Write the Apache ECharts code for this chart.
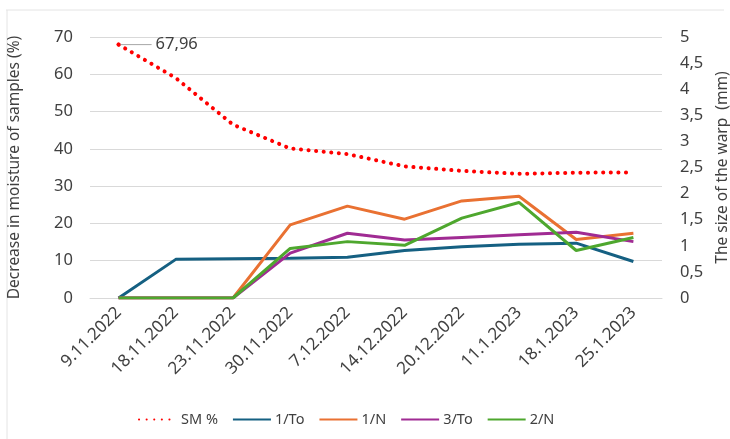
<!DOCTYPE html>
<html>
<head>
<meta charset="utf-8">
<script src="https://cdn.jsdelivr.net/npm/echarts@6/dist/echarts.min.js"></script>
<style>
  html, body { margin: 0; padding: 0; background: #fff; }
  #chart { width: 730px; height: 439px; }
</style>
</head>
<body>
<div id="chart"></div>
<script>
// Sampling dates
const dates = ['9.11.2022', '18.11.2022', '23.11.2022', '30.11.2022', '7.12.2022',
  '14.12.2022', '20.12.2022', '11.1.2023', '18.1.2023', '25.1.2023'];

// Moisture loss of the samples, % (left axis)
const smPercent = [67.96, 59.0, 46.5, 40.1, 38.6, 35.3, 34.1, 33.3, 33.6, 33.7];

// Warp of each sample, mm (right axis)
const warp1To = [0, 0.74, 0.75, 0.76, 0.78, 0.91, 0.98, 1.03, 1.05, 0.70];
const warp1N  = [0, 0, 0, 1.40, 1.76, 1.51, 1.86, 1.95, 1.12, 1.24];
const warp3To = [0, 0, 0, 0.86, 1.24, 1.11, 1.16, 1.21, 1.26, 1.08];
const warp2N  = [0, 0, 0, 0.95, 1.08, 1.01, 1.53, 1.83, 0.91, 1.16];

const leftTicks = { min: 0, max: 70, interval: 10 };
const rightTicks = { min: 0, max: 5, interval: 0.5 };

const FONT = '"Noto Sans", "Liberation Sans", sans-serif';
const TXT = '#404040';
const comma = v => String(v).replace('.', ',');

const chart = echarts.init(document.getElementById('chart'), null, { renderer: 'canvas' });

function warpSeries(name, data, color) {
  return {
    name, type: 'line', yAxisIndex: 1, data,
    symbol: 'none', smooth: false,
    lineStyle: { color, width: 3 },
    itemStyle: { color },
    z: 2
  };
}

// Only the first moisture reading carries a value label with a short leader
const smData = smPercent.map((v, i) => i === 0 ? {
  value: v,
  symbolSize: 4,
  label: {
    show: true, position: 'right', distance: 0,
    formatter: p => '{ln|}{t|' + comma(p.value) + '}',
    rich: {
      ln: { width: 31, height: 1, backgroundColor: '#a6a6a6' },
      t: { fontSize: 16.5, color: TXT, fontFamily: FONT, padding: [0, 0, 0, 4] }
    }
  }
} : v);

chart.setOption({
  backgroundColor: '#fff',
  animation: false,
  textStyle: { fontFamily: FONT },
  grid: { left: 90, right: 68, top: 37, bottom: 141, containLabel: false, outerBoundsMode: 'none' },
  graphic: [
    { type: 'line', shape: { x1: 6, y1: 10, x2: 724, y2: 10 },
      style: { stroke: '#e4e4e4', lineWidth: 1 } },
    { type: 'line', shape: { x1: 7, y1: 10, x2: 7, y2: 439 },
      style: { stroke: '#e4e4e4', lineWidth: 1 } }
  ],
  legend: {
    left: 133, top: 407,
    itemWidth: 38, itemHeight: 3, itemGap: 14,
    itemStyle: { opacity: 0 },
    textStyle: { fontFamily: FONT, fontSize: 14.5, color: TXT, padding: [0, 0, 0, -1] },
    data: ['SM %', '1/To', '1/N', '3/To', '2/N']
  },
  xAxis: {
    type: 'category', data: dates, boundaryGap: true,
    axisLine: { show: true, lineStyle: { color: '#d9d9d9', width: 1 } },
    axisTick: { show: false },
    axisLabel: { rotate: 45, fontSize: 17, color: TXT, fontFamily: FONT, margin: 12, interval: 0 }
  },
  yAxis: [
    {
      type: 'value', ...leftTicks, position: 'left',
      name: 'Decrease in moisture of samples (%)',
      nameLocation: 'middle', nameGap: 67, nameRotate: 90,
      nameTextStyle: { fontSize: 15.5, color: TXT, fontFamily: FONT },
      axisLine: { show: false }, axisTick: { show: false },
      axisLabel: { fontSize: 16.5, color: TXT, fontFamily: FONT, margin: 17 },
      splitLine: { show: true, lineStyle: { color: '#d9d9d9', width: 1 } }
    },
    {
      type: 'value', ...rightTicks, position: 'right',
      name: 'The size of the warp  (mm)',
      nameLocation: 'middle', nameGap: 51, nameRotate: 90,
      nameTextStyle: { fontSize: 15.5, color: TXT, fontFamily: FONT },
      axisLine: { show: false }, axisTick: { show: false },
      axisLabel: { fontSize: 16.5, color: TXT, fontFamily: FONT, margin: 18, formatter: comma },
      splitLine: { show: false }
    }
  ],
  series: [
    {
      name: 'SM %', type: 'line', yAxisIndex: 0, data: smData,
      symbol: 'circle', symbolSize: 0, showSymbol: true,
      lineStyle: { color: '#ff0000', width: 4, type: [0.1, 7.5], cap: 'round' },
      itemStyle: { color: '#ff0000' },
      z: 3
    },
    warpSeries('1/To', warp1To, '#156082'),
    warpSeries('1/N', warp1N, '#e97132'),
    warpSeries('3/To', warp3To, '#a02b93'),
    warpSeries('2/N', warp2N, '#4ea72e')
  ]
});
</script>
</body>
</html>
